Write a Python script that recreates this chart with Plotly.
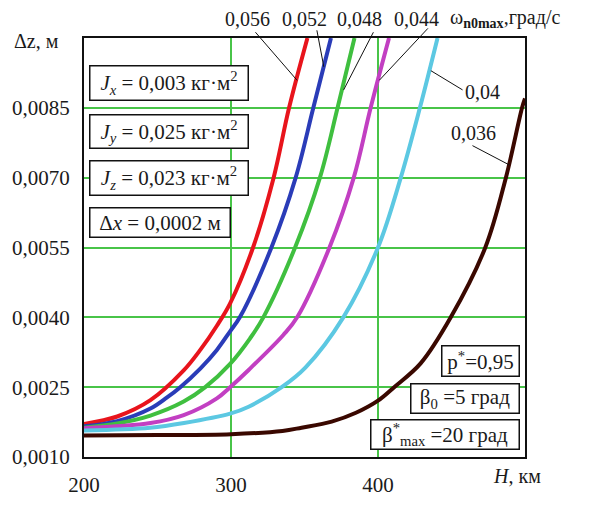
import plotly.graph_objects as go

# ---- data ----
H_056 = [200, 222.6, 245.2, 267.8, 279.1, 290.4, 299.4, 315, 329, 339.5, 352]
dz_056 = [0.00171, 0.00187, 0.00222, 0.00286, 0.0033, 0.00382, 0.0043, 0.0055, 0.0070, 0.0085, 0.0100]

H_052 = [200, 222.6, 245.2, 256.5, 265.5, 279.1, 290.4, 299.4, 306, 327.5, 344, 356, 368]
dz_052 = [0.00166, 0.00177, 0.00204, 0.00228, 0.0025, 0.0029, 0.0033, 0.0037, 0.0040, 0.0055, 0.0070, 0.0085, 0.0100]

H_048 = [200, 222.6, 245.2, 267.8, 282.5, 299.4, 313, 322, 343.6, 360.5, 372.5, 384]
dz_048 = [0.00163, 0.00172, 0.00189, 0.00219, 0.0025, 0.0030, 0.00355, 0.0040, 0.0055, 0.0070, 0.0085, 0.0100]

H_044 = [200, 245.2, 267.8, 290.4, 299.4, 312, 335.6, 345, 367, 383.5, 395, 407.5]
dz_044 = [0.00162, 0.00173, 0.0019, 0.00226, 0.0025, 0.00287, 0.00362, 0.0040, 0.0055, 0.0070, 0.0085, 0.0100]

H_040 = [200, 245, 268, 299.4, 312, 334.5, 350.6, 376.4, 400, 415.5, 428.5, 440.5]
dz_040 = [0.00157, 0.00163, 0.00173, 0.00193, 0.00208, 0.0025, 0.00292, 0.0040, 0.0055, 0.0070, 0.0085, 0.0100]

H_036 = [200, 250, 300, 335, 348, 368.5, 385, 400, 411, 429, 449.5, 473, 487, 498, 500]
dz_036 = [0.00146, 0.00147, 0.00149, 0.00156, 0.00163, 0.00176, 0.00195, 0.00221, 0.0025, 0.00301, 0.0040, 0.0055, 0.0070, 0.0085, 0.0087]

series_labels = ["0,056", "0,052", "0,048", "0,044", "0,04", "0,036"]
series_colors = ["#e8141c", "#2a3cb8", "#3fbf3f", "#c23fc2", "#5cc8e2", "#3a0800"]

x_tickvals = [200, 300, 400]
x_ticktext = ["200", "300", "400"]
y_tickvals = [0.0010, 0.0025, 0.0040, 0.0055, 0.0070, 0.0085]
y_ticktext = ["0,0010", "0,0025", "0,0040", "0,0055", "0,0070", "0,0085"]

SERIF = "Liberation Serif"
TXT = "#1a1a1a"
GRID = "#48c448"

fig = go.Figure()
all_H = [H_056, H_052, H_048, H_044, H_040, H_036]
all_dz = [dz_056, dz_052, dz_048, dz_044, dz_040, dz_036]
for h, dz, name, col in zip(all_H, all_dz, series_labels, series_colors):
    fig.add_trace(go.Scatter(x=h, y=dz, mode="lines", name=name,
                             line=dict(color=col, width=4, shape="spline", smoothing=1.0),
                             showlegend=False, hoverinfo="skip"))

L, R, T, B = 80, 69, 38, 35
W, Hh = 594, 509
PW, PH = W - L - R, Hh - T - B


def px(xp):
    return (xp - L) / PW


def py(yp):
    return (Hh - B - yp) / PH


annotations = []
# series labels on top
for txt, cx in [("0,056", 245), ("0,052", 303), ("0,048", 358.5), ("0,044", 415.5)]:
    annotations.append(dict(text=txt, xref="paper", yref="paper", x=px(cx), y=py(18),
                            showarrow=False, xanchor="center", yanchor="middle",
                            font=dict(family=SERIF, size=20, color=TXT)))
annotations.append(dict(text="ω<sub><b>n0max</b></sub>,град/с", xref="paper", yref="paper",
                        x=px(447), y=py(18), showarrow=False, xanchor="left", yanchor="middle",
                        font=dict(family=SERIF, size=20, color=TXT)))
annotations.append(dict(text="0,04", xref="paper", yref="paper", x=px(482), y=py(94),
                        showarrow=False, xanchor="center", yanchor="middle",
                        font=dict(family=SERIF, size=20, color=TXT)))
annotations.append(dict(text="0,036", xref="paper", yref="paper", x=px(473), y=py(137),
                        showarrow=False, xanchor="center", yanchor="middle",
                        font=dict(family=SERIF, size=20, color=TXT)))

# axis titles
annotations.append(dict(text="Δz, м", xref="paper", yref="paper", x=px(7), y=py(41),
                        showarrow=False, xanchor="left", yanchor="middle",
                        font=dict(family=SERIF, size=20, color=TXT)))
annotations.append(dict(text="<i>H</i>, км", xref="paper", yref="paper", x=px(517), y=py(494),
                        showarrow=False, xanchor="center", yanchor="middle",
                        font=dict(family=SERIF, size=20, color=TXT)))

# boxed parameter notes
boxes = [
    ("<i>J</i><sub><i>x</i></sub> = 0,003 кг·м<sup>2</sup>", 85, 246, 66, 103),
    ("<i>J</i><sub><i>y</i></sub> = 0,025 кг·м<sup>2</sup>", 85, 246, 117, 153),
    ("<i>J</i><sub><i>z</i></sub> = 0,023 кг·м<sup>2</sup>", 85, 246, 165, 202),
    ("Δ<i>x</i> = 0,0002 м", 85, 228, 214, 246),
    ("p<sup>*</sup>=0,95", 440, 520, 358, 391),
    ("β<sub>0</sub> =5 град", 409, 520, 397, 429),
    ("β<sup>*</sup><sub>max</sub> =20 град", 369, 520, 435, 467),
]
for txt, x0, x1, y0, y1 in boxes:
    annotations.append(dict(text=txt, xref="paper", yref="paper", x=px((x0 + x1) / 2), y=py((y0 + y1) / 2),
                            showarrow=False, xanchor="center", yanchor="middle",
                            width=x1 - x0 - 4, height=y1 - y0 - 4, align="center", valign="middle",
                            bgcolor="white", bordercolor="#111", borderwidth=1.5, borderpad=0,
                            font=dict(family=SERIF, size=21, color=TXT)))

# leader lines
leaders = [((253, 32), (295, 82)), ((315, 30), (322, 68)), ((372, 32), (342, 92)),
           ((427, 28), (378, 82)), ((430, 72), (462, 92)), ((472, 150), (509, 170))]
shapes = []
for (xa, ya), (xb, yb) in leaders:
    shapes.append(dict(type="line", xref="paper", yref="paper", x0=px(xa), y0=py(ya), x1=px(xb), y1=py(yb),
                       line=dict(color="#111", width=1)))

fig.update_layout(
    width=W, height=Hh,
    margin=dict(l=L, r=R, t=T, b=B),
    paper_bgcolor="white", plot_bgcolor="white",
    annotations=annotations, shapes=shapes,
    xaxis=dict(range=[200, 500], tickvals=x_tickvals, ticktext=x_ticktext,
               showgrid=True, gridcolor=GRID, gridwidth=2, zeroline=False,
               showline=True, linecolor="#111", linewidth=2, mirror=True,
               ticks="", ticklabelstandoff=8,
               tickfont=dict(family=SERIF, size=21, color=TXT)),
    yaxis=dict(range=[0.001, 0.010], tickvals=y_tickvals, ticktext=y_ticktext,
               showgrid=True, gridcolor=GRID, gridwidth=2, zeroline=False,
               showline=True, linecolor="#111", linewidth=2, mirror=True,
               ticks="", ticklabelstandoff=8,
               tickfont=dict(family=SERIF, size=21, color=TXT)),
)

fig.write_html("out.html")
